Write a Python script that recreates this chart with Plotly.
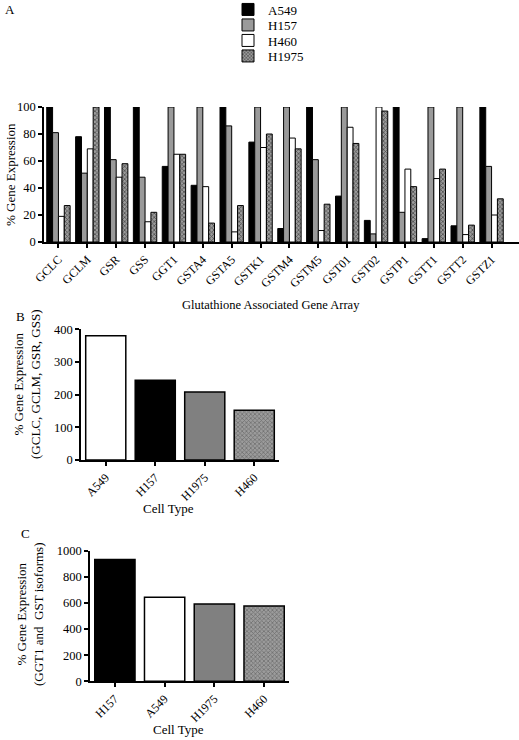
import plotly.graph_objects as go

# ---------------- Data ----------------
genes = ["GCLC", "GCLM", "GSR", "GSS", "GGT1", "GSTA4", "GSTA5", "GSTK1",
         "GSTM4", "GSTM5", "GST01", "GST02", "GSTP1", "GSTT1", "GSTT2", "GSTZ1"]
a549 = [100, 78, 100, 100, 56, 42, 100, 74, 10, 100, 34, 16, 100, 2.5, 12, 100]
h157 = [81, 51, 61, 48, 100, 100, 86, 100, 100, 61, 100, 6, 22, 100, 100, 56]
h460 = [19, 69, 48, 15, 65, 41, 7.5, 70, 77, 8.5, 85, 100, 54, 47, 5.5, 20]
h1975 = [27, 100, 58, 22, 65, 14, 27, 80, 69, 28, 73, 97, 41, 54, 12.5, 32]

b_cells = ["A549", "H157", "H1975", "H460"]
b_values = [380, 244, 208, 152]

c_cells = ["H157", "A549", "H1975", "H460"]
c_values = [933, 643, 592, 577]

# ---------------- Styles ----------------
W, H = 519, 740
FONT = "Liberation Serif"
PAT_FG = "#000000"
PAT_BG = "#9c9c9c"
GRAY_A = "#9a9a9a"
GRAY_BC = "#808080"

colors_a = {"A549": "black", "H157": GRAY_A, "H460": "white", "H1975": PAT_BG}
colors_bc = {"A549": "white", "H157": "black", "H1975": GRAY_BC, "H460": PAT_BG}


def px_x(a, b):
    return [a / W, b / W]


def px_y(top, bottom):
    return [1 - bottom / H, 1 - top / H]


fig = go.Figure()

legend_ids = ["legend", "legend2", "legend3", "legend4"]
legend_y = [9.5, 25, 40.5, 56]
for i, (name, vals) in enumerate([("A549", a549), ("H157", h157), ("H460", h460), ("H1975", h1975)]):
    pat = dict(shape="x", size=3, solidity=0.45, fgcolor=PAT_FG, bgcolor=PAT_BG) if name == "H1975" else dict(shape="")
    fig.add_trace(go.Bar(
        x=genes, y=vals, name=name, legend=legend_ids[i],
        marker=dict(color=colors_a[name], pattern=pat, line=dict(color="black", width=1)),
        xaxis="x", yaxis="y",
    ))


def bc_marker(cells):
    return dict(
        color=[colors_bc[c] for c in cells],
        pattern=dict(shape=["x" if c == "H460" else "" for c in cells],
                     size=3, solidity=0.45, fgcolor=PAT_FG,
                     bgcolor=[colors_bc[c] for c in cells]),
        line=dict(color="black", width=1.5),
    )


fig.add_trace(go.Bar(x=b_cells, y=b_values, showlegend=False,
                     marker=bc_marker(b_cells), xaxis="x2", yaxis="y2"))
fig.add_trace(go.Bar(x=c_cells, y=c_values, showlegend=False,
                     marker=bc_marker(c_cells), xaxis="x3", yaxis="y3"))

TICK = 12.5
axis_common = dict(showline=True, linecolor="black", linewidth=1.5, ticks="outside",
                   ticklen=4, tickwidth=1.5, tickcolor="black", showgrid=False,
                   zeroline=False, automargin=False)
ytick = dict(tickfont=dict(family=FONT, size=TICK, color="black"))
xtick = dict(tickfont=dict(family=FONT, size=12, color="black"), tickangle=-45)

legend_layout = {}
for lid, ly in zip(legend_ids, legend_y):
    legend_layout[lid] = dict(x=228 / W, y=1 - ly / H, xanchor="left", yanchor="middle",
                              font=dict(family=FONT, size=13, color="black"),
                              bgcolor="rgba(0,0,0,0)")

fig.update_layout(
    width=W, height=H,
    margin=dict(l=0, r=0, t=0, b=0, pad=0, autoexpand=False),
    paper_bgcolor="white", plot_bgcolor="white",
    barmode="group", bargap=0.19, bargroupgap=0,
    font=dict(family=FONT, size=TICK, color="black"),
    showlegend=True,
    xaxis=dict(domain=px_x(44, 519), anchor="y",
               range=[-0.5, 15.95], **axis_common, **xtick),
    yaxis=dict(domain=px_y(107, 242), anchor="x", range=[0, 100],
               tickvals=[0, 20, 40, 60, 80, 100], **axis_common, **ytick),
    xaxis2=dict(domain=px_x(81, 279), anchor="y2",
                range=[-0.5, 3.5], **axis_common, **xtick),
    yaxis2=dict(domain=px_y(329.3, 460), anchor="x2", range=[0, 400],
                tickvals=[0, 100, 200, 300, 400], **axis_common, **ytick),
    xaxis3=dict(domain=px_x(90, 289), anchor="y3",
                range=[-0.5, 3.5], **axis_common, **xtick),
    yaxis3=dict(domain=px_y(550.7, 681.3), anchor="x3", range=[0, 1000],
                tickvals=[0, 200, 400, 600, 800, 1000], **axis_common, **ytick),
    **legend_layout,
)


def ann(text, x, y, size=13, angle=0):
    fig.add_annotation(text=text, x=x / W, y=1 - y / H, xref="paper", yref="paper",
                       showarrow=False, textangle=angle, xanchor="center", yanchor="middle",
                       font=dict(family=FONT, size=size, color="black"))


ann("A", 10, 10)
ann("B", 20, 317)
ann("C", 25, 533)
ann("% Gene Expression", 10, 175, 13, -90)
ann("Glutathione Associated Gene Array", 271, 305, 12.5)
ann("% Gene Expression<br>(GCLC, GCLM, GSR, GSS)", 27, 384, 13, -90)
ann("Cell Type", 168, 508, 13)
ann("% Gene Expression<br>(GGT1 and  GST isoforms)", 30, 615, 13, -90)
ann("Cell Type", 178, 729, 13)

fig.write_html("out.html", config={"displayModeBar": False},
               post_script="document.body.style.margin='0';document.body.style.overflow='hidden';")
